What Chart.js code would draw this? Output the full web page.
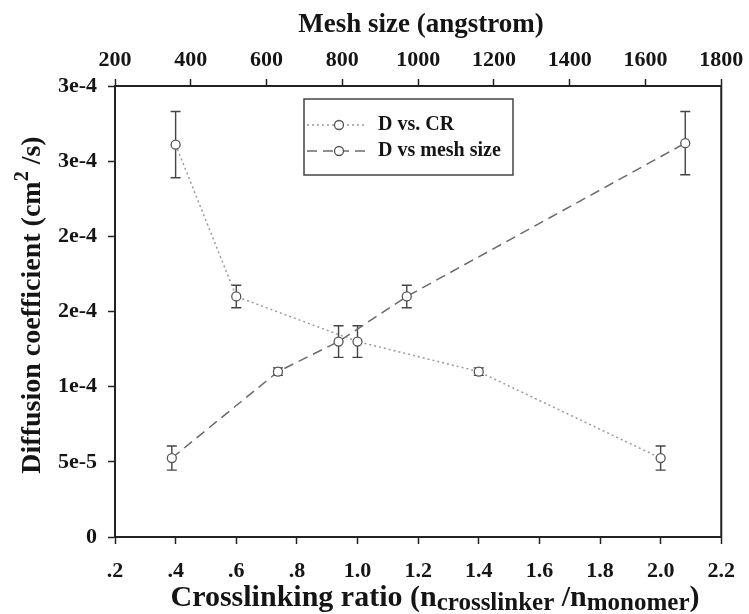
<!DOCTYPE html>
<html>
<head>
<meta charset="utf-8">
<script src="https://cdn.jsdelivr.net/npm/chart.js@4"></script>
<style>
  body { margin: 0; background: #fff; }
</style>
</head>
<body>
<canvas id="chart" width="749" height="614"></canvas>
<script>
// valores
const crRatio = [0.4, 0.6, 1.0, 1.4, 2.0];
const crD = [2.61e-4, 1.6e-4, 1.3e-4, 1.1e-4, 5.25e-5];
const crErr = [2.2e-5, 7.5e-6, 1.05e-5, 2.5e-6, 8e-6];

const meshSize = [350, 630, 790, 970, 1705];
const meshD = [5.25e-5, 1.1e-4, 1.3e-4, 1.6e-4, 2.62e-4];
const meshErr = [8e-6, 2.5e-6, 1.05e-5, 7.5e-6, 2.1e-5];

const xTickLabels = [".2", ".4", ".6", ".8", "1.0", "1.2", "1.4", "1.6", "1.8", "2.0", "2.2"];
const meshTickLabels = ["200", "400", "600", "800", "1000", "1200", "1400", "1600", "1800"];
const yTickLabels = ["0", "5e-5", "1e-4", "2e-4", "2e-4", "3e-4", "3e-4"];

const FAMILY = "'Liberation Serif', 'Times New Roman', serif";
const INK = "#151515";

function toPoints(xs, ys, errs) {
  return xs.map((x, i) => ({ x: x, y: ys[i], err: errs[i] }));
}

function drawRich(ctx, parts, cx, cy, angle) {
  ctx.save();
  ctx.translate(cx, cy);
  ctx.rotate(angle || 0);
  ctx.fillStyle = INK;
  ctx.textBaseline = "middle";
  ctx.textAlign = "left";
  let total = 0;
  parts.forEach((p) => {
    ctx.font = "bold " + p.size + "px " + FAMILY;
    p.w = ctx.measureText(p.t).width;
    total += p.w;
  });
  let x = -total / 2;
  parts.forEach((p) => {
    ctx.font = "bold " + p.size + "px " + FAMILY;
    ctx.fillText(p.t, x, p.dy || 0);
    x += p.w;
  });
  ctx.restore();
}

const errorBars = {
  id: "errorBars",
  beforeDatasetsDraw(chart) {
    const ctx = chart.ctx;
    const yScale = chart.scales.y;
    ctx.save();
    ctx.strokeStyle = "#444";
    ctx.lineWidth = 1.4;
    chart.data.datasets.forEach((ds, i) => {
      const xScale = chart.scales[chart.getDatasetMeta(i).xAxisID];
      ds.data.forEach((p) => {
        const x = xScale.getPixelForValue(p.x);
        const top = yScale.getPixelForValue(p.y + p.err);
        const bot = yScale.getPixelForValue(p.y - p.err);
        ctx.beginPath();
        ctx.moveTo(x, top);
        ctx.lineTo(x, bot);
        ctx.moveTo(x - 5, top);
        ctx.lineTo(x + 5, top);
        ctx.moveTo(x - 5, bot);
        ctx.lineTo(x + 5, bot);
        ctx.stroke();
      });
    });
    ctx.restore();
  },
};

const frameAndText = {
  id: "frameAndText",
  afterDraw(chart) {
    const ctx = chart.ctx;
    const a = chart.chartArea;
    ctx.save();
    ctx.strokeStyle = "#222";
    ctx.lineWidth = 2;
    ctx.strokeRect(a.left, a.top, a.right - a.left, a.bottom - a.top);

    // legenda
    const lx = 304, ly = 99, lw = 209, lh = 76;
    ctx.fillStyle = "#fff";
    ctx.fillRect(lx, ly, lw, lh);
    ctx.strokeStyle = "#444";
    ctx.lineWidth = 1.5;
    ctx.strokeRect(lx, ly, lw, lh);
    chart.data.datasets.forEach((ds, i) => {
      const y = ly + 26 + i * 26;
      ctx.strokeStyle = ds.borderColor;
      ctx.lineWidth = ds.borderWidth;
      ctx.setLineDash(ds.borderDash);
      ctx.beginPath();
      ctx.moveTo(lx + 3, y);
      ctx.lineTo(lx + 62, y);
      ctx.stroke();
      ctx.setLineDash([]);
      ctx.beginPath();
      ctx.arc(lx + 35, y, ds.pointRadius, 0, Math.PI * 2);
      ctx.fillStyle = "#fff";
      ctx.fill();
      ctx.strokeStyle = ds.pointBorderColor;
      ctx.lineWidth = ds.pointBorderWidth;
      ctx.stroke();
      ctx.fillStyle = INK;
      ctx.font = "bold 20px " + FAMILY;
      ctx.textBaseline = "middle";
      ctx.fillText(ds.label, lx + 74, y);
    });
    ctx.restore();

    drawRich(ctx, [{ t: "Mesh size (angstrom)", size: 27 }], 421, 25);
    drawRich(
      ctx,
      [
        { t: "Diffusion coefficient (cm", size: 28 },
        { t: "2", size: 20, dy: -10 },
        { t: " /s)", size: 28 },
      ],
      33,
      305,
      -Math.PI / 2
    );
    drawRich(
      ctx,
      [
        { t: "Crosslinking ratio (n", size: 30 },
        { t: "crosslinker", size: 25, dy: 6 },
        { t: " /n", size: 30 },
        { t: "monomer", size: 25, dy: 6 },
        { t: ")", size: 30 },
      ],
      435,
      598
    );
  },
};

const axisLine = { display: true, color: "#222", width: 2 };
const tickGrid = { drawOnChartArea: false, drawTicks: true, tickLength: 7, tickColor: "#222", tickWidth: 1.5 };
const tickFont = { family: FAMILY, size: 22, weight: "bold" };

new Chart(document.getElementById("chart"), {
  type: "line",
  data: {
    datasets: [
      {
        label: "D vs. CR",
        xAxisID: "x",
        data: toPoints(crRatio, crD, crErr),
        borderColor: "#9a9a9a",
        borderWidth: 1.5,
        borderDash: [2, 3],
        pointRadius: 4.5,
        pointBackgroundColor: "#fff",
        pointBorderColor: "#555",
        pointBorderWidth: 1.3,
      },
      {
        label: "D vs mesh size",
        xAxisID: "x2",
        data: toPoints(meshSize, meshD, meshErr),
        borderColor: "#6a6a6a",
        borderWidth: 1.5,
        borderDash: [10, 6],
        pointRadius: 4.5,
        pointBackgroundColor: "#fff",
        pointBorderColor: "#555",
        pointBorderWidth: 1.3,
      },
    ],
  },
  plugins: [errorBars, frameAndText],
  options: {
    responsive: false,
    animation: false,
    layout: { padding: { left: 0, right: 27, top: 0, bottom: 0 } },
    plugins: { legend: { display: false }, tooltip: { enabled: false } },
    scales: {
      x: {
        type: "linear",
        position: "bottom",
        min: 0.2,
        max: 2.2,
        border: axisLine,
        grid: tickGrid,
        ticks: {
          stepSize: 0.2,
          color: INK,
          font: tickFont,
          padding: 14,
          maxRotation: 0,
          autoSkip: false,
          callback: (v, i) => xTickLabels[i],
        },
        afterFit: (scale) => { scale.height = 77; },
      },
      x2: {
        type: "linear",
        position: "top",
        min: 200,
        max: 1800,
        border: axisLine,
        grid: tickGrid,
        ticks: {
          stepSize: 200,
          color: INK,
          font: tickFont,
          padding: 5,
          maxRotation: 0,
          autoSkip: false,
          callback: (v, i) => meshTickLabels[i],
        },
        afterFit: (scale) => { scale.height = 86; },
      },
      y: {
        min: 0,
        max: 3e-4,
        border: axisLine,
        grid: tickGrid,
        ticks: {
          stepSize: 5e-5,
          color: INK,
          font: tickFont,
          padding: 11,
          autoSkip: false,
          callback: (v, i) => yTickLabels[i],
        },
        afterFit: (scale) => { scale.width = 115; },
      },
    },
  },
});
</script>
</body>
</html>
